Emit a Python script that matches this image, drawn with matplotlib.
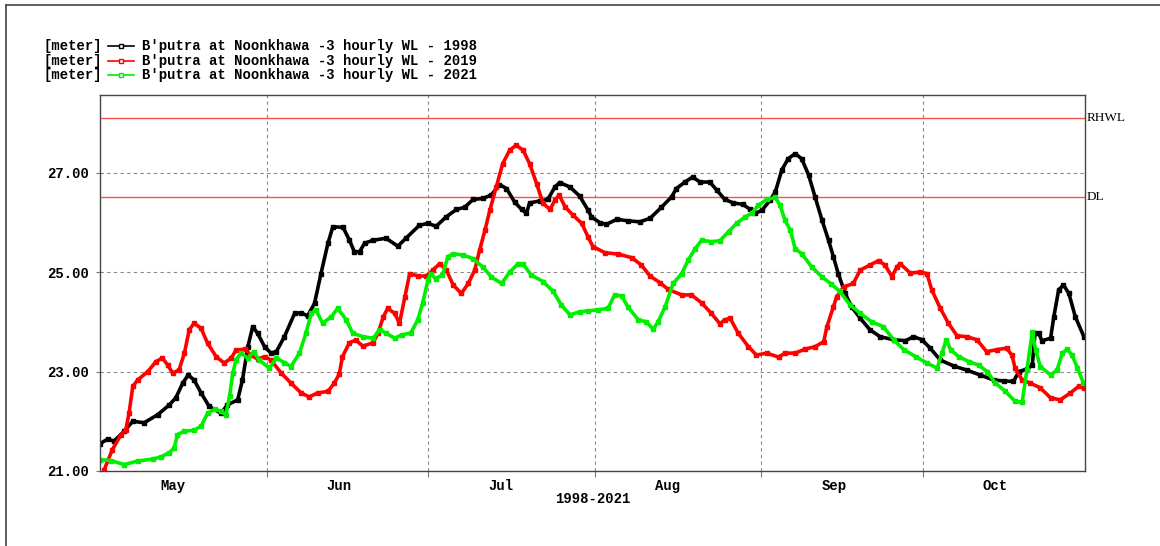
import matplotlib
matplotlib.use("Agg")
import matplotlib.pyplot as plt
from matplotlib.lines import Line2D

# ---- data (day offset from 1 May, water level in metres) ----
d1998 = [0, 1.4, 2.6, 4.5, 6.1, 8.2, 10.7, 12.9, 14.1, 15.4, 16.4, 17.5, 18.8, 20.3, 22.5, 23.7, 25.6, 26.5, 27.5, 28.4,
         29.3, 30.6, 31.8, 32.8, 34.3, 36.2, 37.4, 38.6, 39.9, 41.1, 42.4, 43.3, 45.2, 46.4, 47.3, 48.3, 49.2, 50.8, 53.2,
         55.4, 56.9, 59.4, 61.0, 62.5, 64.4, 66.3, 67.8, 69.4, 71.2, 72.8, 74.3, 75.6, 77.1, 78.4, 79.3, 79.9, 81.8, 83.3,
         84.6, 85.5, 87.4, 89.2, 90.8, 91.4, 93.0, 94.2, 96.1, 98.2, 100.4, 102.3, 104.4, 106.3, 107.2, 108.8, 110.2,
         111.6, 113.4, 114.7, 116.2, 117.8, 119.6, 120.9, 121.8, 123.1, 124.6, 125.6, 126.8, 128.0, 129.3, 130.5, 131.8,
         133.0, 134.3, 135.5, 136.4, 137.3, 138.6, 139.8, 141.4, 143.2, 145.1, 147.6, 149.8, 151.3, 152.9, 154.4, 156.3,
         158.8, 161.2, 163.7, 166.2, 168.1, 169.9, 170.9, 172.4, 173.4, 173.9, 174.6, 175.2, 176.8, 177.4, 178.3, 179.2,
         180.2, 181.4, 183.0]
v1998 = [21.55, 21.64, 21.60, 21.80, 22.00, 21.97, 22.13, 22.33, 22.47, 22.77, 22.93, 22.83, 22.57, 22.30, 22.16, 22.33,
         22.43, 22.83, 23.50, 23.90, 23.77, 23.50, 23.37, 23.40, 23.70, 24.17, 24.18, 24.12, 24.37, 24.97, 25.58, 25.91,
         25.90, 25.64, 25.41, 25.41, 25.58, 25.64, 25.68, 25.52, 25.68, 25.94, 25.98, 25.92, 26.11, 26.26, 26.30, 26.46,
         26.48, 26.55, 26.76, 26.68, 26.41, 26.26, 26.18, 26.39, 26.43, 26.46, 26.71, 26.80, 26.71, 26.53, 26.24, 26.11,
         25.99, 25.96, 26.06, 26.03, 26.01, 26.08, 26.30, 26.51, 26.68, 26.81, 26.91, 26.81, 26.81, 26.65, 26.46, 26.39,
         26.36, 26.26, 26.18, 26.24, 26.44, 26.61, 27.05, 27.28, 27.38, 27.28, 26.95, 26.51, 26.04, 25.64, 25.31, 24.97,
         24.57, 24.30, 24.07, 23.84, 23.70, 23.64, 23.62, 23.70, 23.64, 23.47, 23.23, 23.11, 23.03, 22.93, 22.83, 22.81,
         22.80, 23.00, 23.05, 23.13, 23.77, 23.77, 23.62, 23.67, 24.10, 24.64, 24.74, 24.57, 24.10, 23.70]

d2019 = [0.8, 2.3, 3.9, 4.8, 5.4, 6.1, 7.0, 8.9, 10.4, 11.6, 12.6, 13.5, 14.7, 15.7, 16.6, 17.5, 18.8, 20.0, 21.6, 23.1,
         24.4, 25.3, 26.9, 28.1, 29.3, 30.6, 31.8, 33.7, 35.5, 37.4, 38.9, 40.5, 42.4, 43.6, 44.5, 45.1, 46.4, 47.6, 48.9,
         50.8, 51.7, 52.7, 53.5, 54.8, 55.7, 56.7, 57.6, 59.2, 60.7, 61.9, 63.2, 64.4, 65.7, 67.2, 68.5, 69.7, 70.6, 71.6,
         72.5, 73.7, 74.9, 76.2, 77.4, 78.7, 79.9, 81.2, 82.4, 83.7, 84.6, 85.4, 86.5, 88.0, 89.6, 90.8, 91.7, 93.9, 96.4,
         98.9, 100.7, 102.3, 104.1, 105.7, 108.2, 110.0, 111.9, 113.7, 115.3, 116.2, 117.2, 118.7, 120.6, 122.1, 124.0,
         126.2, 127.4, 129.3, 131.1, 133.0, 134.6, 135.2, 136.4, 137.0, 138.3, 140.1, 141.4, 143.2, 144.8, 146.0, 147.3,
         148.2, 148.8, 150.7, 152.5, 153.8, 154.7, 156.3, 157.8, 159.4, 161.2, 163.1, 164.9, 166.8, 168.6, 169.6, 170.2,
         171.5, 173.0, 174.9, 176.8, 178.6, 180.5, 182.0, 183.0]
v2019 = [21.03, 21.43, 21.73, 21.83, 22.16, 22.70, 22.83, 23.00, 23.20, 23.27, 23.13, 22.97, 23.03, 23.37, 23.84, 23.97,
         23.87, 23.57, 23.30, 23.17, 23.27, 23.43, 23.45, 23.33, 23.25, 23.30, 23.23, 22.97, 22.77, 22.57, 22.49, 22.57,
         22.60, 22.77, 22.95, 23.30, 23.58, 23.63, 23.51, 23.58, 23.77, 24.10, 24.27, 24.17, 23.97, 24.50, 24.97, 24.92,
         24.92, 25.04, 25.17, 25.04, 24.74, 24.57, 24.77, 25.04, 25.44, 25.84, 26.24, 26.71, 27.18, 27.45, 27.55, 27.45,
         27.18, 26.78, 26.38, 26.26, 26.44, 26.55, 26.31, 26.14, 25.98, 25.70, 25.51, 25.39, 25.36, 25.29, 25.14, 24.92,
         24.79, 24.65, 24.54, 24.54, 24.38, 24.17, 23.96, 24.04, 24.07, 23.77, 23.50, 23.33, 23.37, 23.29, 23.37, 23.37,
         23.45, 23.50, 23.60, 23.90, 24.30, 24.50, 24.70, 24.77, 25.04, 25.14, 25.23, 25.14, 24.91, 25.10, 25.17, 24.98,
         25.00, 24.97, 24.64, 24.27, 23.97, 23.72, 23.70, 23.64, 23.40, 23.44, 23.47, 23.33, 23.07, 22.83, 22.77, 22.67,
         22.47, 22.43, 22.57, 22.70, 22.67]

d2021 = [0, 2.0, 4.5, 7.0, 9.8, 11.3, 12.9, 13.8, 14.4, 15.7, 17.5, 18.8, 20.0, 21.3, 22.5, 23.4, 24.1, 24.7, 25.3, 26.2,
         27.5, 28.6, 29.6, 31.5, 32.8, 34.3, 35.5, 37.1, 38.3, 39.3, 40.2, 41.4, 43.0, 44.2, 45.8, 47.0, 48.9, 50.8, 52.0,
         53.2, 54.8, 56.2, 57.8, 59.1, 60.0, 61.0, 61.5, 62.4, 63.7, 64.7, 65.7, 67.6, 69.4, 71.2, 72.8, 74.7, 76.2, 77.8,
         78.7, 80.2, 82.4, 84.3, 85.8, 87.4, 89.2, 90.8, 92.6, 94.5, 95.7, 97.0, 98.2, 100.1, 101.6, 102.9, 103.8, 105.1,
         106.6, 108.2, 109.4, 110.7, 111.9, 113.7, 115.3, 116.9, 118.4, 120.0, 121.2, 122.4, 124.0, 125.6, 126.5, 127.4,
         128.4, 129.3, 130.5, 132.4, 134.3, 136.0, 137.6, 139.5, 141.4, 143.5, 145.7, 147.6, 149.5, 151.7, 153.8, 155.7,
         156.6, 157.4, 158.2, 159.7, 161.6, 163.4, 165.0, 166.5, 168.4, 170.2, 171.5, 172.4, 173.4, 174.0, 174.9, 176.8,
         178.0, 179.0, 179.9, 180.8, 181.8, 182.9]
v2021 = [21.23, 21.21, 21.13, 21.20, 21.24, 21.28, 21.37, 21.46, 21.73, 21.80, 21.82, 21.90, 22.16, 22.24, 22.20, 22.13,
         22.50, 22.97, 23.23, 23.37, 23.27, 23.40, 23.23, 23.07, 23.27, 23.18, 23.10, 23.37, 23.77, 24.17, 24.23, 23.97,
         24.10, 24.27, 24.04, 23.77, 23.70, 23.67, 23.84, 23.77, 23.67, 23.74, 23.77, 24.04, 24.37, 24.84, 24.97, 24.87,
         24.94, 25.31, 25.37, 25.34, 25.27, 25.10, 24.90, 24.77, 25.00, 25.17, 25.16, 24.94, 24.81, 24.61, 24.34, 24.14,
         24.20, 24.22, 24.24, 24.27, 24.54, 24.52, 24.30, 24.04, 24.00, 23.85, 24.00, 24.30, 24.77, 24.97, 25.24, 25.47,
         25.64, 25.61, 25.63, 25.81, 25.98, 26.11, 26.18, 26.34, 26.46, 26.50, 26.34, 26.04, 25.84, 25.47, 25.37, 25.10,
         24.90, 24.76, 24.61, 24.34, 24.17, 24.00, 23.90, 23.64, 23.44, 23.30, 23.17, 23.07, 23.37, 23.64, 23.44, 23.30,
         23.20, 23.13, 23.00, 22.77, 22.60, 22.40, 22.38, 23.03, 23.80, 23.44, 23.10, 22.93, 23.03, 23.37, 23.45, 23.33,
         23.07, 22.77]

series_labels = ["B'putra at Noonkhawa -3 hourly WL - 1998",
                 "B'putra at Noonkhawa -3 hourly WL - 2019",
                 "B'putra at Noonkhawa -3 hourly WL - 2021"]
unit_label = "[meter]"
month_starts = [0, 31, 61, 92, 123, 153, 184]
month_labels = ["May", "Jun", "Jul", "Aug", "Sep", "Oct"]
y_ticks = [21, 23, 25, 27]
RHWL = 28.10
DL = 26.50
xlabel = "1998-2021"

# ---- style ----
mono = "Liberation Mono"
colors = ["#000000", "#ff0000", "#00ee00"]

fig = plt.figure(figsize=(11.6, 5.46), dpi=100)
ax = fig.add_axes([100 / 1160, 1 - 471 / 546, 985 / 1160, 376 / 546])

for d, v, c in zip([d1998, d2019, d2021], [v1998, v2019, v2021], colors):
    ax.plot(d, v, color=c, lw=2.6, marker="s", ms=2.2, mfc=c, mec=c, solid_joinstyle="round")

ax.axhline(RHWL, color="#ff5050", lw=1.0, zorder=1)
ax.axhline(DL, color="#ff5050", lw=1.0, zorder=1)

ax.set_xlim(0, 183.2)
ax.set_ylim(21, 28.56)

ax.set_yticks(y_ticks)
ax.set_yticklabels([f"{t:.2f}" for t in y_ticks], fontfamily=mono, fontweight="bold", fontsize=10)
ax.set_xticks(month_starts[1:-1])
ax.set_xticklabels([])
ax.set_xticks([m + 13.5 for m in month_starts[:-1]], minor=True)
ax.set_xticklabels(month_labels, minor=True, fontfamily=mono, fontweight="bold", fontsize=10)
ax.tick_params(axis="x", which="minor", length=0, pad=6)
ax.tick_params(axis="x", which="major", length=4, color="#777777")
ax.tick_params(axis="y", length=3, color="#777777", pad=5)

ax.grid(True, which="major", color="#888888", linestyle=(0, (3, 3)), lw=0.8)
ax.set_axisbelow(True)

for s in ax.spines.values():
    s.set_color("#444444")
    s.set_linewidth(1.0)

ax.set_xlabel(xlabel, fontfamily=mono, fontweight="bold", fontsize=10, labelpad=-1)

# right-hand labels
ax.text(1.002, RHWL, "RHWL", transform=ax.get_yaxis_transform(), va="center", ha="left",
        fontfamily="Liberation Serif", fontsize=9.5)
ax.text(1.002, DL, "DL", transform=ax.get_yaxis_transform(), va="center", ha="left",
        fontfamily="Liberation Serif", fontsize=9.5)

# legend drawn at top-left
W, H = 1160, 546
for i, (lab, c) in enumerate(zip(series_labels, colors)):
    yp = 1 - (46 + i * 14.5) / H
    fig.text(43 / W, yp, unit_label, fontfamily=mono, fontweight="bold", fontsize=10, va="center", ha="left")
    fig.add_artist(Line2D([108 / W, 134 / W], [yp, yp], color=c, lw=1.2, transform=fig.transFigure))
    fig.add_artist(Line2D([121 / W], [yp], color=c, marker="s", ms=3, mfc="white", mec=c, mew=1,
                          transform=fig.transFigure))
    fig.text(142 / W, yp, lab, fontfamily=mono, fontweight="bold", fontsize=10, va="center", ha="left")

# outer window frame lines
fig.add_artist(Line2D([6 / W, 1.0], [1 - 5 / H, 1 - 5 / H], color="#444444", lw=1.2, transform=fig.transFigure))
fig.add_artist(Line2D([6 / W, 6 / W], [1 - 5 / H, 0], color="#444444", lw=1.2, transform=fig.transFigure))

fig.savefig("out.png", dpi=100)
